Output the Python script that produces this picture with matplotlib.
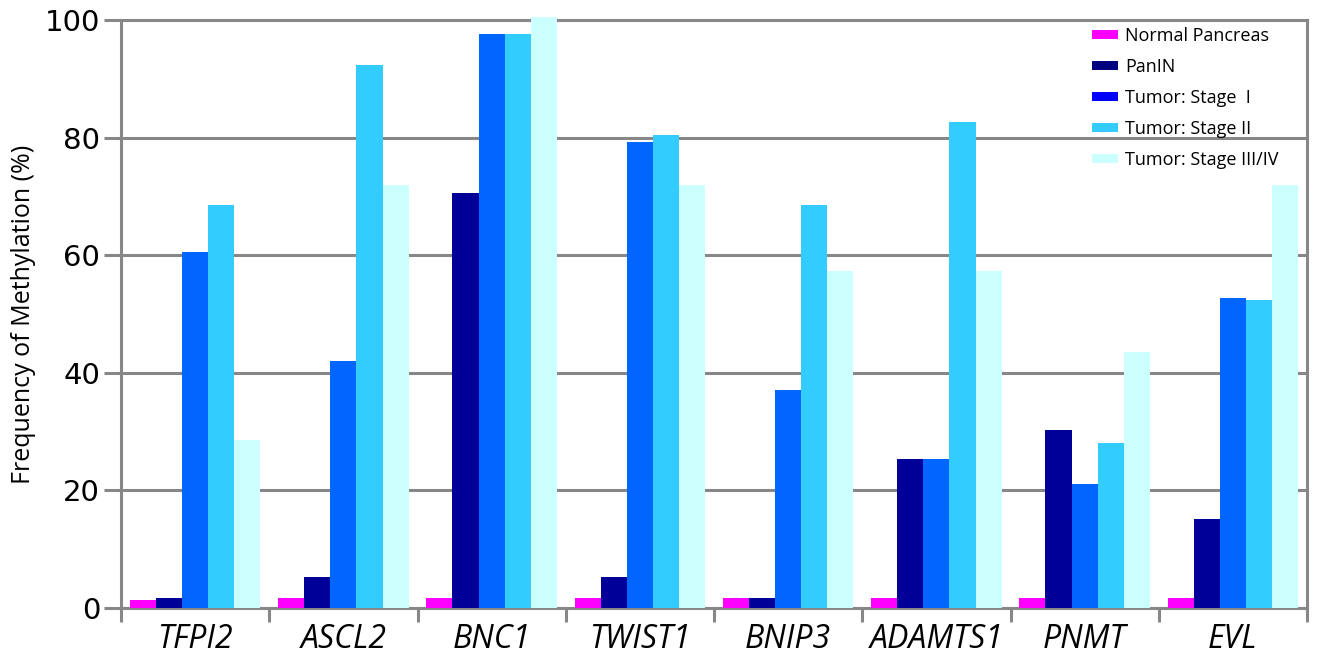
import numpy as np
import matplotlib
matplotlib.use("Agg")
import matplotlib.pyplot as plt
from matplotlib.patches import Patch
from matplotlib.ticker import FixedLocator

genes = ["TFPI2", "ASCL2", "BNC1", "TWIST1", "BNIP3", "ADAMTS1", "PNMT", "EVL"]
series_names = ["Normal Pancreas", "PanIN", "Tumor: Stage  I", "Tumor: Stage II", "Tumor: Stage III/IV"]
normal = [1.3, 1.7, 1.7, 1.7, 1.7, 1.7, 1.7, 1.7]
panin = [1.7, 5.3, 70.5, 5.3, 1.7, 25.3, 30.2, 15.1]
stage1 = [60.6, 42.0, 97.6, 79.2, 37.0, 25.3, 21.1, 52.8]
stage2 = [68.5, 92.4, 97.6, 80.4, 68.5, 82.6, 28.0, 52.3]
stage34 = [28.5, 72.0, 100.5, 72.0, 57.3, 57.3, 43.5, 72.0]
yticks = [0, 20, 40, 60, 80, 100]

bar_colors = ["#FF00FF", "#000099", "#0066FF", "#33CCFF", "#CCFFFF"]
legend_colors = ["#FF00FF", "#000080", "#0000FF", "#33CCFF", "#CCFFFF"]
grey = "#878787"

fig = plt.figure(figsize=(13.18, 6.62), dpi=100)
ax = fig.add_axes([121/1318, 1 - 608/662, (1307-121)/1318, (608-20)/662])

data = [normal, panin, stage1, stage2, stage34]
x = np.arange(len(genes))
w = 0.176
for i, (vals, c) in enumerate(zip(data, bar_colors)):
    ax.bar(x + (i - 2) * w, vals, width=w, color=c, edgecolor="none", zorder=3, clip_on=False)

ax.set_xlim(-0.5, len(genes) - 0.5)
ax.set_ylim(0, 100)
ax.set_yticks(yticks)
ax.yaxis.grid(True, color=grey, linewidth=2.2, zorder=1)
ax.set_axisbelow(True)
for s in ax.spines.values():
    s.set_color(grey)
    s.set_linewidth(2.2)
ax.tick_params(axis="y", length=12, width=2.2, color=grey, pad=3, labelsize=21)
for lab in ax.get_yticklabels():
    lab.set_fontfamily("DejaVu Sans")

ax.set_xticks(x)
ax.set_xticklabels(genes, fontsize=23, style="italic", fontfamily="Open Sans")
ax.xaxis.set_minor_locator(FixedLocator(np.arange(-0.5, len(genes), 1.0)))
ax.tick_params(axis="x", which="major", length=0, pad=11)
ax.tick_params(axis="x", which="minor", length=10, width=2.2, color=grey)

ax.set_ylabel("Frequency of Methylation (%)", fontsize=18, fontfamily="Open Sans", labelpad=6)

handles = [Patch(facecolor=c, edgecolor="none") for c in legend_colors]
leg = ax.legend(handles, series_names, loc="upper left",
                bbox_to_anchor=(1092/1318, 1 - 27/662), bbox_transform=fig.transFigure,
                frameon=False, prop={"family": "Open Sans", "size": 13},
                handlelength=1.45, handleheight=0.4, handletextpad=0.4,
                labelspacing=0.72, borderaxespad=0, borderpad=0)

fig.savefig("out.png", dpi=100)
